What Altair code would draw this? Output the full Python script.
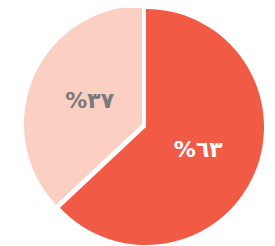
import altair as alt
import pandas as pd

labels = ["%٦٣", "%٣٧"]
values = [63, 37]
colors = ["#F15A45", "#FBCFC1"]
text_colors = ["#FFFFFF", "#7A7A7A"]

df = pd.DataFrame({"label": labels, "value": values, "order": [0, 1]})

base = (
    alt.Chart(df)
    .transform_joinaggregate(total="sum(value)")
    .transform_window(cum="sum(value)", sort=[alt.SortField("order")])
    .transform_calculate(
        t0="(datum.cum - datum.value) / datum.total * 2 * PI",
        t1="datum.cum / datum.total * 2 * PI",
        tm="(datum.cum - datum.value / 2) / datum.total * 2 * PI",
    )
)

centers = [(138, 119), (134, 116)]
R = 118
layers = []
for i, lab in enumerate(labels):
    cx, cy = centers[i]
    f = base.transform_filter(alt.datum.label == lab)
    arc = f.mark_arc(color=colors[i], outerRadius=R).encode(
        theta=alt.Theta("t0:Q", scale=None),
        theta2="t1:Q",
        x=alt.value(cx),
        y=alt.value(cy),
    )
    txt = f.mark_text(
        font="DejaVu Sans", fontSize=22, fontWeight="bold",
        color=text_colors[i], align="center", baseline="middle",
    ).encode(
        theta=alt.Theta("tm:Q", scale=None),
        radius=alt.value(57),
        x=alt.value(cx),
        y=alt.value(cy),
        text="label:N",
    )
    layers += [arc, txt]

chart = (
    alt.layer(*layers)
    .properties(width=259, height=238, padding=0, autosize=alt.AutoSizeParams(type="none"))
    .configure_view(stroke=None)
)
chart.save("out.html", embed_options={"renderer": "svg", "actions": False})
